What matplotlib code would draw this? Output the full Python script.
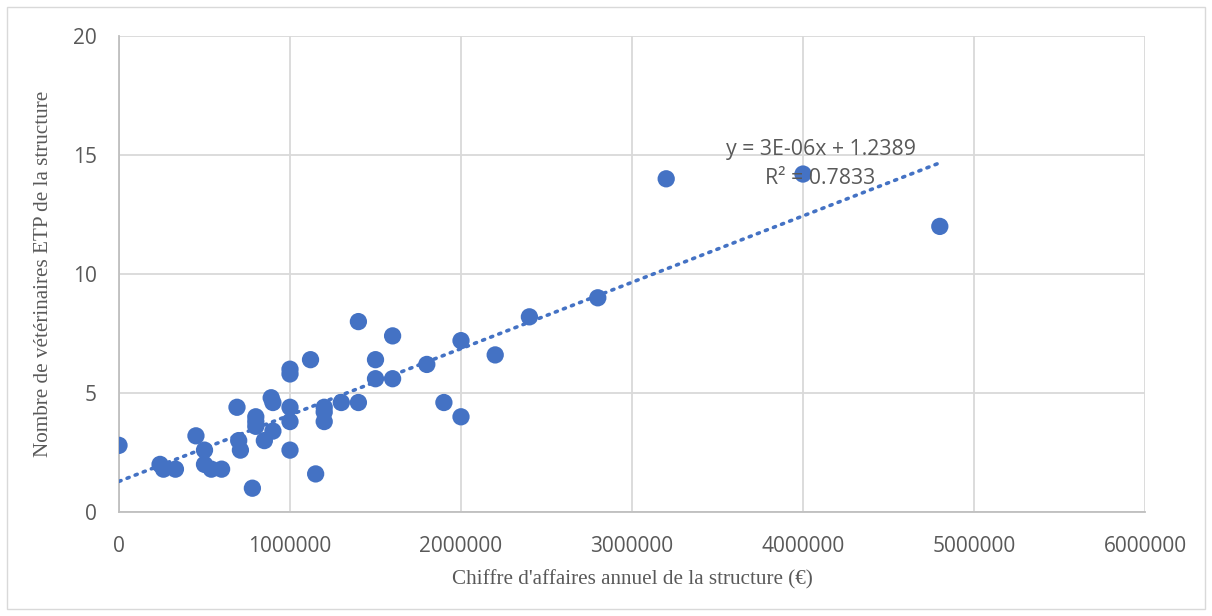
import numpy as np
import matplotlib
matplotlib.use("Agg")
import matplotlib.pyplot as plt
from matplotlib.patches import Rectangle

# Chiffre d'affaires (€) et nombre de vétérinaires ETP
ca = [0, 240000, 260000, 330000, 450000, 500000, 500000, 540000, 600000,
      690000, 700000, 710000, 780000, 800000, 800000, 800000, 850000,
      890000, 900000, 900000, 1000000, 1000000, 1000000, 1000000, 1000000,
      1120000, 1150000, 1200000, 1200000, 1200000, 1300000, 1400000,
      1400000, 1500000, 1500000, 1600000, 1600000, 1800000, 1900000,
      2000000, 2000000, 2200000, 2400000, 2800000, 3200000, 4000000, 4800000]
etp = [2.8, 2.0, 1.8, 1.8, 3.2, 2.6, 2.0, 1.8, 1.8,
       4.4, 3.0, 2.6, 1.0, 4.0, 3.8, 3.6, 3.0,
       4.8, 4.6, 3.4, 6.0, 5.8, 4.4, 3.8, 2.6,
       6.4, 1.6, 4.4, 4.2, 3.8, 4.6, 8.0,
       4.6, 6.4, 5.6, 7.4, 5.6, 6.2, 4.6,
       7.2, 4.0, 6.6, 8.2, 9.0, 14.0, 14.2, 12.0]

x_ticks = [0, 1000000, 2000000, 3000000, 4000000, 5000000, 6000000]
y_ticks = [0, 5, 10, 15, 20]

blue = "#4472C4"
grey_txt = "#595959"

fig = plt.figure(figsize=(12.12, 6.16), dpi=100)
ax = fig.add_axes([119/1212, 104/616, (1145-119)/1212, (512-36)/616])

# courbe de tendance linéaire
slope, intercept = np.polyfit(ca, etp, 1)
xt = np.array([0, max(ca)])
ax.plot(xt, slope*xt + intercept, color=blue, lw=2.6,
        linestyle=(0, (0.6, 1.8)), dash_capstyle="round", zorder=3)

ax.scatter(ca, etp, s=155, color=blue, edgecolors="none", zorder=4)

ax.set_xlim(0, 6000000)
ax.set_ylim(0, 20)
ax.set_xticks(x_ticks)
ax.set_yticks(y_ticks)
ax.set_xticklabels([str(v) for v in x_ticks])
ax.grid(True, color="#D9D9D9", lw=1.3)
ax.set_axisbelow(True)
for s in ["top", "right"]:
    ax.spines[s].set_visible(False)
for s in ["left", "bottom"]:
    ax.spines[s].set_color("#BFBFBF")
    ax.spines[s].set_linewidth(1.3)
ax.tick_params(length=0, labelsize=15, labelcolor=grey_txt)
ax.tick_params(axis="x", pad=17)
ax.tick_params(axis="y", pad=16)
for lab in ax.get_xticklabels() + ax.get_yticklabels():
    lab.set_fontfamily("Open Sans")

ax.set_xlabel("Chiffre d'affaires annuel de la structure (€)",
              fontfamily="Liberation Serif", fontsize=15.2, color=grey_txt, labelpad=10)
ax.set_ylabel("Nombre de vétérinaires ETP de la structure",
              fontfamily="Liberation Serif", fontsize=15.2, color=grey_txt, labelpad=14)

fig.text(821/1212, 1 - 150/616, "y = 3E-06x + 1.2389", ha="center", va="center",
         fontfamily="Open Sans", fontsize=15.3, color=grey_txt, zorder=5)
fig.text(820/1212, 1 - 178/616, "R² = 0.7833", ha="center", va="center",
         fontfamily="Open Sans", fontsize=15.3, color=grey_txt, zorder=5)

fig.patches.append(Rectangle((7/1212, 7/616), 1198/1212, 602/616, transform=fig.transFigure,
                             fill=False, edgecolor="#D9D9D9", lw=1))

fig.savefig("out.png", dpi=100)
